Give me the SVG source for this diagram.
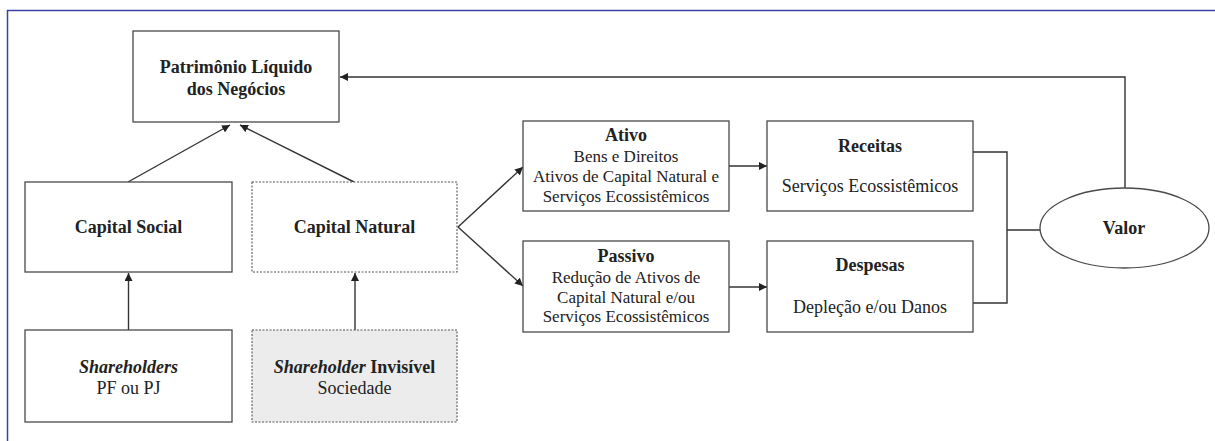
<svg xmlns="http://www.w3.org/2000/svg" width="1215" height="441" viewBox="0 0 1215 441">
<style>
.box{fill:#fff;stroke:#4a4a4a;stroke-width:1.3}
.dot{fill:#fff;stroke:#555;stroke-width:1.1;stroke-dasharray:2 1.5}
.grey{fill:#ececec}
.ln{fill:none;stroke:#333;stroke-width:1.4}
</style>
<defs>
<marker id="ar" viewBox="0 0 10 10" refX="10" refY="5" markerWidth="8" markerHeight="8" markerUnits="userSpaceOnUse" orient="auto">
<path d="M0,0 L10,5 L0,10 z" fill="#222"/>
</marker>
</defs>
<rect width="1215" height="441" fill="#fff"/>
<path d="M7.5,441 V10.5 H1215" fill="none" stroke="#3c40a8" stroke-width="1.5"/>

<g id="connectors">
<path class="ln" d="M128,182 L230,125" marker-end="url(#ar)"/>
<path class="ln" d="M354,182 L240,125" marker-end="url(#ar)"/>
<path class="ln" d="M128.5,330 V273" marker-end="url(#ar)"/>
<path class="ln" d="M355,330 V273" marker-end="url(#ar)"/>
<path class="ln" d="M458,227 L523,167" marker-end="url(#ar)"/>
<path class="ln" d="M458,227 L523,286" marker-end="url(#ar)"/>
<path class="ln" d="M729,166 H767" marker-end="url(#ar)"/>
<path class="ln" d="M729,287 H767" marker-end="url(#ar)"/>
<path class="ln" d="M973,152 H1007 V303 H973 M1007,230 H1040"/>
<path class="ln" d="M1125,188 V77 H340" marker-end="url(#ar)"/>
</g>

<g font-family="'Liberation Serif', serif" fill="#222" text-anchor="middle" font-size="18">
<g id="patrimonio">
<rect class="box" x="133" y="31" width="206" height="91"/>
<text x="236" y="73" font-weight="bold">Patrimônio Líquido</text>
<text x="236" y="95" font-weight="bold">dos Negócios</text>
</g>
<g id="capital-social">
<rect class="box" x="25" y="182" width="207" height="90"/>
<text x="128.5" y="233" font-weight="bold">Capital Social</text>
</g>
<g id="capital-natural">
<rect class="dot" x="252" y="182" width="205" height="90"/>
<text x="354.5" y="233" font-weight="bold">Capital Natural</text>
</g>
<g id="shareholders">
<rect class="box" x="25" y="330" width="207" height="92"/>
<text x="128.5" y="373" font-weight="bold" font-style="italic">Shareholders</text>
<text x="128.5" y="394">PF ou PJ</text>
</g>
<g id="shareholder-invisivel">
<rect class="dot grey" x="252" y="330" width="205" height="92"/>
<text x="354.5" y="373" font-weight="bold"><tspan font-style="italic">Shareholder</tspan> Invisível</text>
<text x="354.5" y="394">Sociedade</text>
</g>
<g id="ativo">
<rect class="box" x="523" y="121" width="206" height="90"/>
<text x="626" y="141" font-weight="bold">Ativo</text>
<text x="626" y="162" font-size="17">Bens e Direitos</text>
<text x="626" y="182" font-size="17">Ativos de Capital Natural e</text>
<text x="626" y="202" font-size="17">Serviços Ecossistêmicos</text>
</g>
<g id="passivo">
<rect class="box" x="523" y="241" width="206" height="91"/>
<text x="626" y="262" font-weight="bold">Passivo</text>
<text x="626" y="283" font-size="17">Redução de Ativos de</text>
<text x="626" y="303" font-size="17">Capital Natural e/ou</text>
<text x="626" y="322" font-size="17">Serviços Ecossistêmicos</text>
</g>
<g id="receitas">
<rect class="box" x="767" y="121" width="206" height="90"/>
<text x="870" y="152" font-weight="bold">Receitas</text>
<text x="870" y="192">Serviços Ecossistêmicos</text>
</g>
<g id="despesas">
<rect class="box" x="767" y="241" width="206" height="91"/>
<text x="870" y="271" font-weight="bold">Despesas</text>
<text x="870" y="313">Depleção e/ou Danos</text>
</g>
<g id="valor">
<ellipse class="box" cx="1124.5" cy="228" rx="84.5" ry="40"/>
<text x="1124" y="234" font-weight="bold">Valor</text>
</g>
</g>
</svg>
